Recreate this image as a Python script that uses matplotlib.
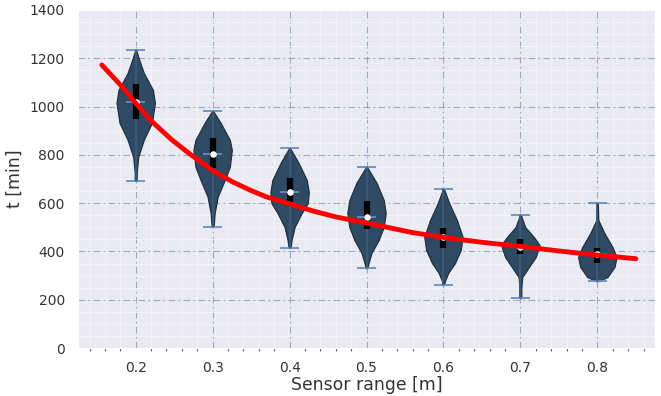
import numpy as np
import matplotlib
matplotlib.use("Agg")
import matplotlib.pyplot as plt
from matplotlib.ticker import MultipleLocator
import seaborn as sns

sns.set_style("darkgrid")
plt.rcParams['font.family'] = ['DejaVu Sans']

# sensor ranges
positions = [0.2, 0.3, 0.4, 0.5, 0.6, 0.7, 0.8]

# violin outlines: values (t) and relative half widths
coords = [
    [692, 725, 791, 862, 932, 1015, 1069, 1139, 1200, 1234],
    [501, 559, 626, 696, 750, 820, 862, 932, 982],
    [414, 447, 501, 559, 600, 646, 696, 766, 828],
    [331, 352, 394, 447, 501, 559, 613, 684, 750],
    [261, 282, 311, 352, 406, 460, 530, 600, 659],
    [207, 253, 294, 336, 377, 427, 460, 501, 551],
    [277, 294, 336, 377, 418, 476, 530, 600],
]
widths_px = [
    [1, 1, 2.5, 8, 16, 19, 17, 8, 3, 0.5],
    [1, 2, 5, 12, 17, 19, 17, 8, 0.5],
    [1, 2, 5, 12, 18, 19, 17, 9, 0.5],
    [1, 2, 5, 12, 17, 19, 17, 10, 0.5],
    [0.5, 2, 5, 12, 18, 20, 14, 6, 0.5],
    [1, 1, 2, 9, 16, 20, 14, 5, 0.5],
    [1, 10, 17, 19, 15, 7, 1, 0.5],
]
medians = [1019, 804, 646, 543, 460, 418, 389]
q1 = [949, 745, 605, 493, 414, 389, 352]
q3 = [1093, 870, 704, 609, 497, 451, 414]

# fitted curve
fit_x = [0.156, 0.182, 0.2, 0.221, 0.247, 0.269, 0.3, 0.326, 0.348, 0.369, 0.4,
         0.43, 0.46, 0.5, 0.56, 0.605, 0.65, 0.7, 0.75, 0.8, 0.85]
fit_y = [1172, 1083, 1014, 938, 862, 807, 735, 688, 655, 627, 597,
         568, 543, 518, 478, 456, 438, 421, 402, 385, 370]

fig = plt.figure(figsize=(6.61, 3.96), dpi=100)
ax = fig.add_axes([0.118, 0.121, 0.873, 0.854])

vpstats = []
for c, w, m in zip(coords, widths_px, medians):
    vpstats.append({
        'coords': np.array(c, dtype=float),
        'vals': np.array(w, dtype=float),
        'mean': m,
        'median': m,
        'min': c[0],
        'max': c[-1],
    })

parts = ax.violin(vpstats, positions=positions, widths=0.05,
                  showextrema=True, showmedians=True)
for b in parts['bodies']:
    b.set_facecolor('#2f4a63')
    b.set_edgecolor('#1d2b3a')
    b.set_linewidth(0.8)
    b.set_alpha(1)
for key in ['cmins', 'cmaxes', 'cbars', 'cmedians']:
    parts[key].set_color('#6a8cc4')
    parts[key].set_linewidth(1.3)
parts['cbars'].set_color('#3d5b7a')

ax.vlines(positions, q1, q3, color='black', linewidth=4.5, zorder=3)
ax.scatter(positions, medians, color='white', s=14, zorder=4)

ax.plot(fit_x, fit_y, color='red', linewidth=3.5, solid_capstyle='round',
        solid_joinstyle='round', zorder=5)

ax.set_xlim(0.125, 0.875)
ax.set_ylim(0, 1400)
ax.xaxis.set_major_locator(MultipleLocator(0.1))
ax.xaxis.set_minor_locator(MultipleLocator(0.02))
ax.yaxis.set_major_locator(MultipleLocator(200))
ax.yaxis.set_minor_locator(MultipleLocator(50))
ax.grid(which='major', color='#9ea6c0', linestyle=(0, (6, 3, 1.5, 3)), linewidth=0.8)
ax.grid(which='minor', color='#f4f4f8', linestyle='-', linewidth=0.6)
ax.tick_params(axis='x', which='minor', bottom=True, length=2, width=0.8, color='#666666')
ax.tick_params(axis='x', which='major', bottom=True, length=0, pad=9)
ax.tick_params(axis='y', which='major', pad=6)
ax.tick_params(labelsize=10, colors='#333333')
ax.set_xticks(positions)
ax.set_xticklabels([str(p) for p in positions])
ax.set_xlabel("Sensor range [m]", fontsize=12.4, color='#333333', labelpad=1)
ax.set_ylabel("t [min]", fontsize=12.4, color='#333333')

fig.savefig("out.png", dpi=100)
